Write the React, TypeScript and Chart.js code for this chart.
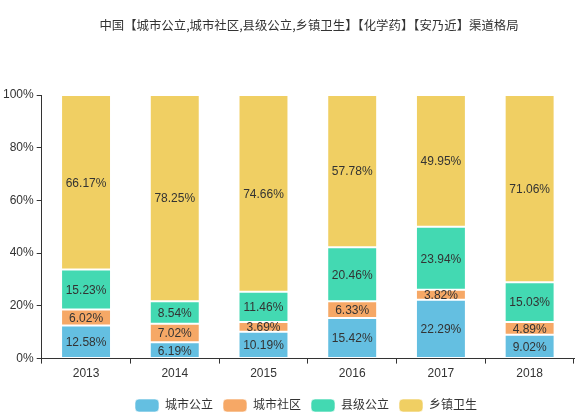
import React, { useEffect, useRef } from "react";
import { Chart, registerables } from "chart.js";

Chart.register(...registerables);

const years = ["2013", "2014", "2015", "2016", "2017", "2018"];
const seriesNames = ["城市公立", "城市社区", "县级公立", "乡镇卫生"];
const cityPublic = [12.58, 6.19, 10.19, 15.42, 22.29, 9.02];
const cityCommunity = [6.02, 7.02, 3.69, 6.33, 3.82, 4.89];
const countyPublic = [15.23, 8.54, 11.46, 20.46, 23.94, 15.03];
const townshipHealth = [66.17, 78.25, 74.66, 57.78, 49.95, 71.06];
const yTicks = [0, 20, 40, 60, 80, 100];
const colors = ["#64bfe1", "#f6a866", "#43d9b2", "#f0cf63"];
const titleText = "中国【城市公立,城市社区,县级公立,乡镇卫生】【化学药】【安乃近】渠道格局";

const FONT = "Helvetica, Arial, 'Liberation Sans', 'Noto Sans CJK SC', sans-serif";

const labelPlugin = {
  id: "segLabels",
  afterDatasetsDraw(chart: any) {
    const ctx = chart.ctx;
    ctx.save();
    ctx.font = `12px ${FONT}`;
    ctx.fillStyle = "#333";
    ctx.textAlign = "center";
    ctx.textBaseline = "middle";
    chart.data.datasets.forEach((ds: any, i: number) => {
      const meta = chart.getDatasetMeta(i);
      if (meta.hidden) return;
      meta.data.forEach((el: any, j: number) => {
        const v = ds.data[j];
        const cy = (el.y + el.base) / 2;
        ctx.fillText(v.toFixed(2) + "%", el.x, cy + 1);
      });
    });
    ctx.restore();
  },
};

const titlePlugin = {
  id: "offsetTitle",
  afterDraw(chart: any) {
    const ctx = chart.ctx;
    ctx.save();
    ctx.font = `12.4px 'Noto Sans CJK SC', sans-serif`;
    ctx.fillStyle = "#333";
    ctx.textAlign = "center";
    ctx.textBaseline = "middle";
    ctx.fillText(titleText, 309, 25);
    ctx.restore();
  },
};

const legendShiftPlugin = {
  id: "legendShift",
  afterLayout(chart: any) {
    if (chart.legend) {
      chart.legend.left += 19;
      chart.legend.right += 19;
    }
  },
};

export default function App() {
  const ref = useRef<HTMLCanvasElement>(null);
  useEffect(() => {
    const seriesData = [cityPublic, cityCommunity, countyPublic, townshipHealth];
    const chart = new Chart(ref.current!, {
      type: "bar",
      data: {
        labels: years,
        datasets: seriesNames.map((name, i) => ({
          label: name,
          data: seriesData[i],
          backgroundColor: colors[i],
          borderColor: "rgba(255,255,255,0.6)",
          borderWidth: 1,
          borderSkipped: false,
          categoryPercentage: 1,
          barPercentage: 0.563,
        })),
      },
      options: {
        animation: false,
        responsive: false,
        maintainAspectRatio: false,
        layout: { padding: { left: 0, right: 2, top: 95, bottom: -6 } },
        plugins: {
          title: { display: false },
          legend: {
            position: "bottom",
            labels: {
              color: "#333",
              font: { family: FONT, size: 12 },
              boxWidth: 24,
              boxHeight: 13,
              useBorderRadius: true,
              borderRadius: 4,
              padding: 10,
            },
          },
          tooltip: { enabled: false },
        },
        scales: {
          x: {
            stacked: true,
            grid: { drawOnChartArea: false, drawTicks: true, tickLength: 5, color: "#333" },
            border: { display: true, color: "#333" },
            ticks: { color: "#333", font: { family: FONT, size: 12 }, padding: 3 },
            afterFit: (axis: any) => {
              axis.height += 5;
            },
          },
          y: {
            stacked: true,
            min: 0,
            max: 100,
            afterBuildTicks: (axis: any) => {
              axis.ticks = yTicks.map((v) => ({ value: v }));
            },
            grid: { drawOnChartArea: false, drawTicks: true, tickLength: 5, color: "#333" },
            border: { display: true, color: "#333" },
            ticks: {
              color: "#333",
              font: { family: FONT, size: 12 },
              padding: 3,
              callback: (v: any) => v + "%",
            },
          },
        },
      },
      plugins: [labelPlugin, titlePlugin, legendShiftPlugin],
    });
    return () => chart.destroy();
  }, []);
  return (
    <div style={{ position: "absolute", left: 0, top: 0, width: 576, height: 416, background: "#fff" }}>
      <canvas ref={ref} width={576} height={416} style={{ width: 576, height: 416 }} />
    </div>
  );
}
